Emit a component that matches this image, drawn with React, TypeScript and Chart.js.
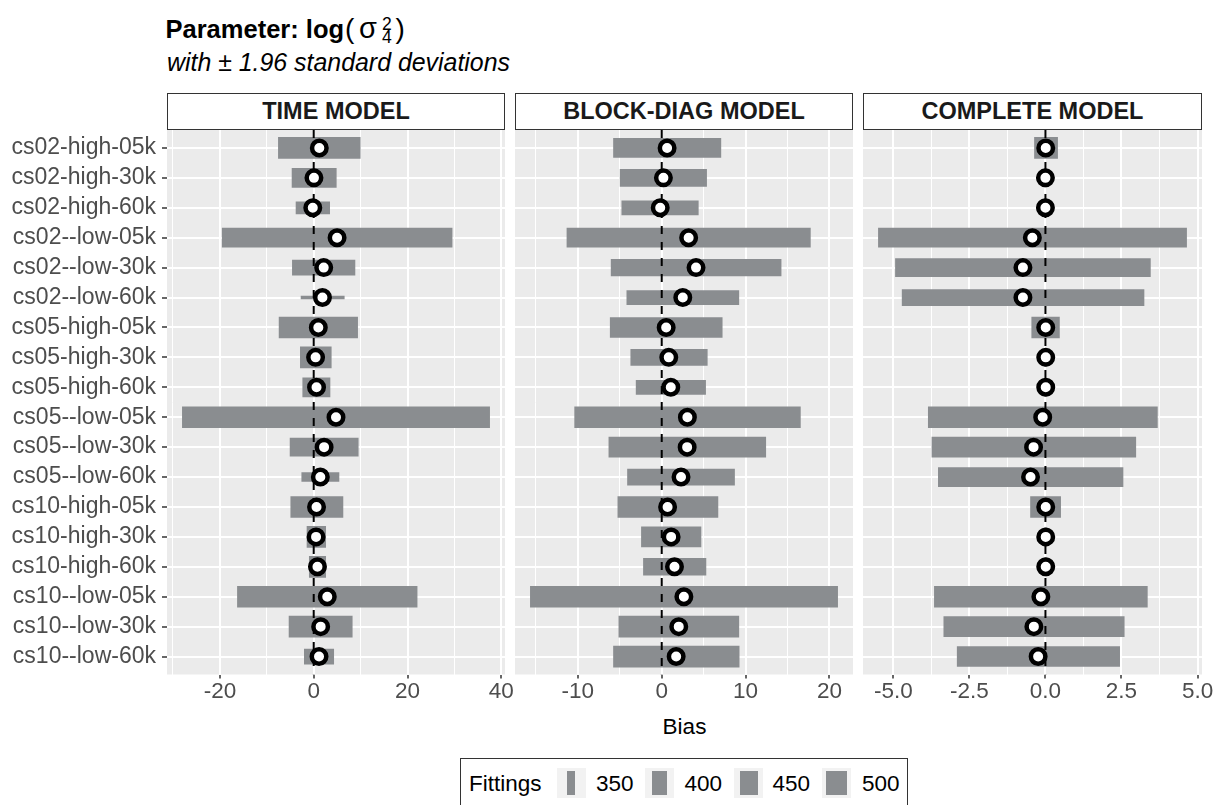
import React, { useEffect, useRef } from "react";
import { Chart, registerables } from "chart.js";

Chart.register(...registerables);

// ---------------- data ----------------
const CATEGORIES = [
  "cs02-high-05k", "cs02-high-30k", "cs02-high-60k",
  "cs02--low-05k", "cs02--low-30k", "cs02--low-60k",
  "cs05-high-05k", "cs05-high-30k", "cs05-high-60k",
  "cs05--low-05k", "cs05--low-30k", "cs05--low-60k",
  "cs10-high-05k", "cs10-high-30k", "cs10-high-60k",
  "cs10--low-05k", "cs10--low-30k", "cs10--low-60k",
];

const MODELS = ["TIME MODEL", "BLOCK-DIAG MODEL", "COMPLETE MODEL"];

const TIME_LOW = [-7.53, -4.62, -3.77, -19.5, -4.55, -2.7, -7.38, -2.85, -2.34, -28.0, -5.04, -2.55, -4.89, -1.43, -0.94, -16.26, -5.26, -2.0];
const TIME_HIGH = [9.91, 4.81, 3.4, 29.5, 8.79, 6.51, 9.36, 3.74, 3.47, 37.5, 9.49, 5.38, 6.23, 2.55, 2.55, 22.04, 8.21, 4.26];
const TIME_MEAN = [1.19, 0.05, -0.2, 4.98, 2.13, 1.86, 0.98, 0.4, 0.6, 4.75, 2.21, 1.41, 0.6, 0.5, 0.8, 2.89, 1.48, 1.13];
const TIME_FIT = [500, 467, 379, 467, 400, 314, 500, 500, 467, 500, 450, 357, 500, 500, 500, 500, 500, 400];

const BLOCK_LOW = [-5.75, -4.96, -4.76, -11.3, -6.03, -4.16, -6.14, -3.69, -3.05, -10.38, -6.3, -4.08, -5.23, -2.42, -2.18, -15.66, -5.11, -5.75];
const BLOCK_HIGH = [7.05, 5.35, 4.36, 17.72, 14.23, 9.19, 7.21, 5.43, 5.23, 16.53, 12.4, 8.68, 6.7, 4.68, 5.27, 20.97, 9.19, 9.23];
const BLOCK_MEAN = [0.64, 0.2, -0.18, 3.21, 4.09, 2.51, 0.53, 0.84, 1.08, 3.06, 3.03, 2.3, 0.7, 1.12, 1.52, 2.64, 2.03, 1.72];
const BLOCK_FIT = [467, 433, 393, 467, 425, 393, 483, 417, 393, 500, 483, 417, 500, 483, 433, 500, 500, 500];

const COMPLETE_LOW = [-0.36, -0.04, -0.04, -5.49, -4.93, -4.71, -0.45, -0.04, -0.04, -3.85, -3.73, -3.52, -0.49, -0.04, -0.04, -3.65, -3.34, -2.9];
const COMPLETE_HIGH = [0.4, 0.05, 0.05, 4.64, 3.45, 3.24, 0.46, 0.05, 0.05, 3.68, 2.97, 2.55, 0.5, 0.05, 0.05, 3.35, 2.59, 2.44];
const COMPLETE_MEAN = [0.01, 0.0, 0.0, -0.43, -0.74, -0.74, 0.01, 0.01, 0.01, -0.09, -0.39, -0.49, 0.01, 0.01, 0.01, -0.15, -0.38, -0.24];
const COMPLETE_FIT = [500, 450, 450, 467, 450, 417, 500, 450, 450, 500, 483, 467, 500, 450, 450, 500, 483, 483];

const TIME_TICKS = [-20, 0, 20, 40];
const TIME_TICK_LABELS = ["-20", "0", "20", "40"];
const BLOCK_TICKS = [-10, 0, 10, 20];
const BLOCK_TICK_LABELS = ["-10", "0", "10", "20"];
const COMPLETE_TICKS = [-5, -2.5, 0, 2.5, 5];
const COMPLETE_TICK_LABELS = ["-5.0", "-2.5", "0.0", "2.5", "5.0"];

const FITTINGS_BREAKS = [350, 400, 450, 500];

// ---------------- style ----------------
const FONT = '"Liberation Sans", Arial, Helvetica, sans-serif';
const BAR_COLOR = "#8a8d90";
const PANEL_BG = "#EBEBEB";
const AXIS_TEXT = "#4D4D4D";
const SIZE_DOMAIN = [300, 350, 400, 450, 500];
const SIZE_RANGE = [1, 8, 15, 18, 21];

function thickness(f: number): number {
  if (f <= SIZE_DOMAIN[0]) return SIZE_RANGE[0];
  for (let i = 1; i < SIZE_DOMAIN.length; i++) {
    if (f <= SIZE_DOMAIN[i]) {
      const t = (f - SIZE_DOMAIN[i - 1]) / (SIZE_DOMAIN[i] - SIZE_DOMAIN[i - 1]);
      return SIZE_RANGE[i - 1] + t * (SIZE_RANGE[i] - SIZE_RANGE[i - 1]);
    }
  }
  return SIZE_RANGE[SIZE_RANGE.length - 1];
}

const AREA_TOP = 130;
const AREA_BOTTOM = 674.5;
const CANVAS_TOP = 105;
const CANVAS_BOTTOM = 712;
const PAGE_W = 1223;

interface PanelSpec {
  title: string;
  low: number[];
  high: number[];
  mean: number[];
  fit: number[];
  ticks: number[];
  labels: string[];
  areaLeft: number;
  areaRight: number;
  showY: boolean;
}

const PANELS: PanelSpec[] = [
  { title: MODELS[0], low: TIME_LOW, high: TIME_HIGH, mean: TIME_MEAN, fit: TIME_FIT, ticks: TIME_TICKS, labels: TIME_TICK_LABELS, areaLeft: 167, areaRight: 505, showY: true },
  { title: MODELS[1], low: BLOCK_LOW, high: BLOCK_HIGH, mean: BLOCK_MEAN, fit: BLOCK_FIT, ticks: BLOCK_TICKS, labels: BLOCK_TICK_LABELS, areaLeft: 515, areaRight: 853, showY: false },
  { title: MODELS[2], low: COMPLETE_LOW, high: COMPLETE_HIGH, mean: COMPLETE_MEAN, fit: COMPLETE_FIT, ticks: COMPLETE_TICKS, labels: COMPLETE_TICK_LABELS, areaLeft: 863, areaRight: 1202, showY: false },
];

const bgPlugin = {
  id: "panelBg",
  beforeDraw(chart: any) {
    const { ctx, chartArea } = chart;
    ctx.save();
    ctx.fillStyle = PANEL_BG;
    ctx.fillRect(chartArea.left, chartArea.top, chartArea.right - chartArea.left, chartArea.bottom - chartArea.top);
    ctx.restore();
  },
};

function Panel({ spec }: { spec: PanelSpec }) {
  const ref = useRef<HTMLCanvasElement>(null);
  const canvasLeft = spec.showY ? 0 : spec.areaLeft - 20;
  const padLeft = spec.showY ? 0 : 20;
  const yWidth = spec.showY ? spec.areaLeft : 0;
  const canvasRight = Math.min(spec.areaRight + 20, PAGE_W);
  const padRight = canvasRight - spec.areaRight;
  const w = canvasRight - canvasLeft;
  const h = CANVAS_BOTTOM - CANVAS_TOP;
  const padTop = AREA_TOP - CANVAS_TOP;
  const xAxisH = CANVAS_BOTTOM - AREA_BOTTOM;

  useEffect(() => {
    const canvas = ref.current!;
    const n = CATEGORIES.length;
    const yMin = -0.6;
    const yMax = n - 1 + 0.6;
    const lo = Math.min(...spec.low);
    const hi = Math.max(...spec.high);
    const expand = (hi - lo) * 0.05;
    const xMin = lo - expand;
    const xMax = hi + expand;
    const half = (spec.ticks[1] - spec.ticks[0]) / 2;
    const isMajor = (v: number) => spec.ticks.some((t) => Math.abs(t - v) < 1e-6);
    const allTicks: number[] = [];
    for (let k = Math.ceil(xMin / half); k <= Math.floor(xMax / half); k++) allTicks.push(k * half);

    const barSets = CATEGORIES.map((_, i) => ({
      type: "bar" as const,
      label: CATEGORIES[i],
      data: [{ y: i, x: [spec.low[i], spec.high[i]] }],
      barThickness: thickness(spec.fit[i]),
      backgroundColor: BAR_COLOR,
      borderWidth: 0,
      grouped: false,
      order: 2,
    }));

    const chart = new Chart(canvas, {
      type: "bar",
      data: {
        datasets: [
          {
            type: "line",
            label: "mean",
            data: spec.mean.map((m, i) => ({ x: m, y: i })),
            showLine: false,
            pointRadius: 7.25,
            pointHoverRadius: 7.25,
            pointBorderWidth: 4.5,
            pointHoverBorderWidth: 4.5,
            pointBackgroundColor: "#FFFFFF",
            pointBorderColor: "#000000",
            order: 0,
          } as any,
          {
            type: "line",
            label: "zero",
            data: [{ x: 0, y: yMin }, { x: 0, y: yMax }],
            borderColor: "#000000",
            borderWidth: 2,
            borderDash: [8, 8],
            pointRadius: 0,
            order: 1,
          } as any,
          ...(barSets as any[]),
        ],
      },
      options: {
        indexAxis: "y",
        responsive: false,
        animation: false,
        devicePixelRatio: 1,
        events: [],
        layout: { padding: { left: padLeft, right: padRight, top: padTop, bottom: 0 } },
        plugins: { legend: { display: false }, tooltip: { enabled: false } },
        scales: {
          x: {
            type: "linear",
            bounds: "data",
            offset: false,
            min: xMin,
            max: xMax,
            afterBuildTicks: (s: any) => {
              s.ticks = allTicks.map((v) => ({ value: v }));
            },
            afterFit: (s: any) => {
              s.height = xAxisH;
            },
            border: { display: false },
            grid: {
              offset: false,
              color: "#FFFFFF",
              lineWidth: (c: any) => (c.tick && isMajor(c.tick.value) ? 2 : 1),
              tickColor: (c: any) => (c.tick && isMajor(c.tick.value) ? "#333333" : "rgba(0,0,0,0)"),
              tickLength: 4,
              tickWidth: 1.5,
            },
            ticks: {
              autoSkip: false,
              maxRotation: 0,
              minRotation: 0,
              padding: 0,
              color: AXIS_TEXT,
              font: { family: FONT, size: 22.5 },
              callback: (v: any) => {
                const idx = spec.ticks.findIndex((t) => Math.abs(t - Number(v)) < 1e-6);
                return idx >= 0 ? spec.labels[idx] : "";
              },
            },
          },
          y: {
            type: "linear",
            bounds: "data",
            offset: false,
            min: yMin,
            max: yMax,
            reverse: true,
            afterBuildTicks: (s: any) => {
              s.ticks = CATEGORIES.map((_, i) => ({ value: i }));
            },
            afterFit: (s: any) => {
              s.width = yWidth;
            },
            border: { display: false },
            grid: {
              offset: false,
              color: "#FFFFFF",
              lineWidth: 2,
              tickColor: "#333333",
              tickLength: spec.showY ? 5 : 0,
              drawTicks: spec.showY,
              tickWidth: 1.5,
            },
            ticks: {
              display: spec.showY,
              autoSkip: false,
              padding: 6,
              color: AXIS_TEXT,
              font: { family: FONT, size: 23 },
              callback: (v: any) => CATEGORIES[Math.round(Number(v))] ?? "",
            },
          },
        },
      } as any,
      plugins: [bgPlugin],
    });
    return () => chart.destroy();
  }, []);

  return (
    <canvas
      ref={ref}
      width={w}
      height={h}
      style={{ position: "absolute", left: canvasLeft, top: CANVAS_TOP, width: w, height: h }}
    />
  );
}

function Txt(props: {
  x: number;
  baseline: number;
  size: number;
  weight?: string | number;
  italic?: boolean;
  color?: string;
  center?: boolean;
  children: React.ReactNode;
}) {
  const { x, baseline, size, weight, italic, color, center, children } = props;
  return (
    <div
      style={{
        position: "absolute",
        left: center ? x - 300 : x,
        width: center ? 600 : undefined,
        textAlign: center ? "center" : "left",
        top: baseline - 0.8465 * size,
        fontFamily: FONT,
        fontSize: size,
        lineHeight: 1,
        fontWeight: weight ?? "normal",
        fontStyle: italic ? "italic" : "normal",
        color: color ?? "#000",
        whiteSpace: "nowrap",
      }}
    >
      {children}
    </div>
  );
}

const LEGEND_KEY_LEFT = [556.7, 645, 734, 821.7];
const LEGEND_LABEL_LEFT = [596, 684.5, 772.5, 862];

export default function App() {
  return (
    <div
      style={{
        position: "absolute",
        left: 0,
        top: 0,
        width: PAGE_W,
        height: 805,
        overflow: "hidden",
        background: "#FFFFFF",
      }}
    >
      {/* title */}
      <Txt x={165.5} baseline={38.5} size={25.5} weight="bold">Parameter: log</Txt>
      <Txt x={345} baseline={38.3} size={28}>(</Txt>
      <Txt x={359} baseline={38.5} size={29}>σ</Txt>
      <Txt x={382} baseline={30.7} size={17.5}>2</Txt>
      <Txt x={382} baseline={44.3} size={17.5}>4</Txt>
      <Txt x={395.5} baseline={38.3} size={28}>)</Txt>
      <Txt x={167} baseline={70.7} size={24.9} italic>with ± 1.96 standard deviations</Txt>

      {/* strips */}
      {PANELS.map((p) => (
        <div
          key={p.title}
          style={{
            position: "absolute",
            left: p.areaLeft,
            top: 93,
            width: p.areaRight - p.areaLeft,
            height: 36.5,
            boxSizing: "border-box",
            border: "1px solid #333333",
            background: "#FFFFFF",
            display: "flex",
            alignItems: "center",
            justifyContent: "center",
            fontFamily: FONT,
            fontWeight: "bold",
            fontSize: 23.5,
            lineHeight: 1,
            color: "#1A1A1A",
          }}
        >
          {p.title}
        </div>
      ))}

      {PANELS.map((p) => (
        <Panel key={p.title + "-panel"} spec={p} />
      ))}

      {/* x title */}
      <Txt x={684.5} baseline={735} size={22.5} center>Bias</Txt>

      {/* legend */}
      <div
        style={{
          position: "absolute",
          left: 460,
          top: 758,
          width: 448,
          height: 70,
          boxSizing: "border-box",
          border: "1px solid #333333",
          background: "#FFFFFF",
        }}
      />
      <Txt x={469} baseline={791.7} size={22.5}>Fittings</Txt>
      {FITTINGS_BREAKS.map((f, i) => {
        const bw = thickness(f);
        return (
          <React.Fragment key={f}>
            <div
              style={{
                position: "absolute",
                left: LEGEND_KEY_LEFT[i],
                top: 768,
                width: 29.3,
                height: 29.7,
                background: "#F2F2F2",
              }}
            />
            <div
              style={{
                position: "absolute",
                left: LEGEND_KEY_LEFT[i] + 14.65 - bw / 2,
                top: 770.7,
                width: bw,
                height: 24.3,
                background: BAR_COLOR,
              }}
            />
            <Txt x={LEGEND_LABEL_LEFT[i]} baseline={791.7} size={22.5}>{String(f)}</Txt>
          </React.Fragment>
        );
      })}
    </div>
  );
}
